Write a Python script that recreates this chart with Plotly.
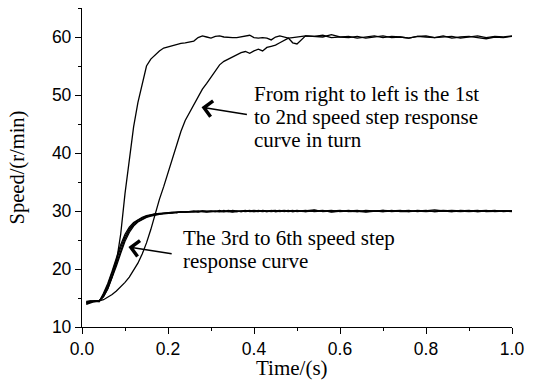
import plotly.graph_objects as go

# ---- data ----
t_fine = [0.01, 0.02, 0.03, 0.04, 0.05, 0.06, 0.07, 0.08, 0.09, 0.10,
          0.11, 0.12, 0.13, 0.14, 0.15, 0.16, 0.17, 0.18, 0.19, 0.20,
          0.21, 0.22, 0.23, 0.24, 0.25, 0.26, 0.27, 0.28, 0.29, 0.30,
          0.31, 0.32, 0.33, 0.34, 0.35, 0.36, 0.37, 0.38, 0.39, 0.40,
          0.41, 0.42, 0.43, 0.44, 0.45, 0.46, 0.47, 0.48, 0.49, 0.50]
t_coarse = [0.52, 0.54, 0.56, 0.58, 0.60, 0.62, 0.64, 0.66, 0.68, 0.70,
            0.72, 0.74, 0.76, 0.78, 0.80, 0.82, 0.84, 0.86, 0.88, 0.90,
            0.92, 0.94, 0.96, 0.98, 1.00]
time_s = t_fine + t_coarse

# 2nd step response (fast, to 60 r/min)
speed_2nd = [14.2, 14.4, 14.5, 14.5, 15.3, 16.6, 18.6, 21.2, 26.0, 33.0,
             39.0, 44.5, 48.7, 52.0, 55.0, 56.2, 56.9, 57.6, 58.1, 58.3,
             58.6, 58.8, 58.9, 59.0, 59.1, 59.3, 59.9, 60.2, 60.0, 59.8,
             60.1, 60.2, 60.0, 59.9, 59.9, 59.9, 60.0, 60.1, 60.3, 59.9,
             59.8, 59.9, 59.8, 59.5, 60.0, 60.2, 60.0, 59.8, 59.9, 60.0,
             60.2, 60.1, 60.3, 59.9, 60.0, 60.1, 59.8, 60.0, 60.2, 59.9,
             60.1, 60.0, 59.8, 60.1, 60.2, 59.9, 60.0, 60.1, 59.8, 60.0,
             60.2, 59.9, 60.1, 60.0, 60.2]

# 1st step response (slow, to 60 r/min)
speed_1st = [14.3, 14.5, 14.5, 14.5, 14.7, 15.1, 15.6, 16.2, 16.9, 17.7,
             18.6, 19.7, 21.0, 22.6, 24.5, 26.8, 29.6, 32.0, 34.2, 36.6,
             39.2, 41.6, 43.7, 45.6, 47.0, 48.3, 49.7, 51.0, 52.0, 53.0,
             54.2, 55.2, 55.8, 56.2, 56.6, 57.0, 57.3, 57.5, 57.2, 57.6,
             57.9, 57.6, 58.2, 58.4, 58.6, 59.0, 59.4, 59.8, 59.0, 58.8,
             60.2, 60.1, 60.0, 60.4, 60.0, 59.9, 60.1, 59.8, 60.0, 60.2,
             59.9, 60.0, 59.8, 60.1, 60.0, 59.9, 60.2, 59.8, 60.0, 60.1,
             59.9, 59.7, 60.0, 59.9, 60.1]

# 3rd..6th step responses (to 30 r/min)
speed_3rd = [14.0, 14.3, 14.4, 14.4, 15.8, 17.5, 19.6, 22.0, 24.2, 26.0,
             27.2, 28.0, 28.5, 28.9, 29.2, 29.4, 29.5, 29.6, 29.6, 29.7,
             29.7, 29.8, 29.8, 29.9, 29.8, 29.9, 30.0, 29.9, 29.8, 29.9,
             30.0, 29.9, 30.1, 29.9, 29.8, 29.9, 30.0, 30.1, 29.9, 30.0,
             29.9, 30.1, 30.0, 29.9, 30.0, 30.1, 29.9, 30.0, 30.1, 29.9,
             30.0, 30.2, 29.9, 30.0, 30.1, 29.9, 30.0, 29.8, 30.0, 30.1,
             29.9, 30.0, 30.1, 29.9, 30.0, 30.2, 30.0, 29.9, 30.0, 30.1,
             29.9, 30.0, 30.1, 29.9, 30.0]
speed_4th = [14.2, 14.4, 14.5, 14.4, 15.6, 17.2, 19.2, 21.5, 23.7, 25.6,
             26.9, 27.8, 28.4, 28.8, 29.1, 29.3, 29.5, 29.5, 29.6, 29.7,
             29.8, 29.7, 29.9, 29.8, 29.9, 29.9, 29.8, 30.0, 29.9, 30.0,
             29.9, 30.1, 29.9, 30.0, 29.9, 30.0, 29.9, 30.0, 30.1, 29.9,
             30.0, 30.0, 29.9, 30.1, 29.9, 30.0, 30.0, 29.9, 30.0, 30.1,
             29.9, 30.0, 30.1, 29.8, 30.0, 30.1, 29.9, 30.0, 30.0, 29.9,
             30.1, 29.9, 30.0, 30.0, 29.9, 30.0, 30.1, 30.0, 29.9, 30.0,
             30.1, 29.9, 30.0, 30.0, 30.0]
speed_5th = [14.4, 14.5, 14.4, 14.5, 15.4, 16.9, 18.8, 21.0, 23.2, 25.2,
             26.6, 27.6, 28.2, 28.6, 29.0, 29.2, 29.4, 29.5, 29.6, 29.6,
             29.7, 29.8, 29.8, 29.9, 29.9, 29.8, 29.9, 30.0, 30.0, 29.9,
             30.0, 30.0, 29.9, 30.1, 30.0, 29.9, 30.0, 29.9, 30.0, 30.1,
             30.0, 29.9, 30.0, 30.0, 30.1, 29.9, 30.0, 30.1, 29.9, 30.0,
             30.1, 29.9, 30.0, 30.1, 29.9, 30.0, 30.1, 29.9, 30.0, 30.1,
             30.0, 29.9, 29.9, 30.1, 30.0, 29.9, 30.0, 30.1, 30.0, 29.9,
             30.0, 30.1, 29.9, 30.0, 29.9]
speed_6th = [13.9, 14.2, 14.4, 14.5, 15.2, 16.6, 18.4, 20.5, 22.7, 24.8,
             26.3, 27.4, 28.1, 28.5, 28.9, 29.1, 29.3, 29.4, 29.5, 29.6,
             29.6, 29.7, 29.8, 29.8, 29.9, 30.0, 29.9, 29.9, 30.0, 29.9,
             29.9, 30.0, 30.0, 29.9, 30.1, 30.0, 29.9, 30.0, 30.0, 29.9,
             30.1, 30.0, 29.9, 30.0, 29.9, 30.0, 30.1, 30.0, 29.9, 30.0,
             29.9, 30.1, 30.0, 29.9, 30.0, 30.0, 29.9, 30.1, 30.0, 29.9,
             30.0, 30.1, 29.9, 30.0, 30.1, 29.9, 30.0, 29.9, 30.1, 30.0,
             29.9, 30.0, 30.0, 30.1, 30.0]

series = [speed_2nd, speed_1st, speed_3rd, speed_4th, speed_5th, speed_6th]

x_ticks = [0.0, 0.2, 0.4, 0.6, 0.8, 1.0]
y_ticks = [10, 20, 30, 40, 50, 60]

note_top = ["From right to left is the 1st",
            "to 2nd speed step response",
            "curve in turn"]
note_bottom = ["The 3rd to 6th speed step",
               "response curve"]

SERIF = "Liberation Serif"
SANS = "Liberation Sans"

fig = go.Figure()
for s in series:
    fig.add_trace(go.Scatter(x=time_s, y=s, mode="lines",
                             line=dict(color="black", width=1.3),
                             showlegend=False, hoverinfo="skip"))

annotations = []
# arrows
annotations.append(dict(x=0.278, y=47.9, ax=0.387, ay=46.6, xref="x", yref="y",
                        axref="x", ayref="y", text="", showarrow=True,
                        arrowhead=4, arrowsize=2.2, arrowwidth=1.4,
                        arrowcolor="black"))
annotations.append(dict(x=0.108, y=23.8, ax=0.212, ay=22.6, xref="x", yref="y",
                        axref="x", ayref="y", text="", showarrow=True,
                        arrowhead=4, arrowsize=2.2, arrowwidth=1.4,
                        arrowcolor="black"))
# text notes, one line per annotation
for i, line in enumerate(note_top):
    annotations.append(dict(x=0.396, y=50.2 - 3.97 * i, xref="x", yref="y",
                            text=line, showarrow=False, xanchor="left",
                            yanchor="middle",
                            font=dict(family=SERIF, size=21, color="black")))
for i, line in enumerate(note_bottom):
    annotations.append(dict(x=0.230, y=25.3 - 3.97 * i, xref="x", yref="y",
                            text=line, showarrow=False, xanchor="left",
                            yanchor="middle",
                            font=dict(family=SERIF, size=21, color="black")))
# axis titles
annotations.append(dict(x=0.488, y=-0.128, xref="paper", yref="paper",
                        text="Time/(s)", showarrow=False, xanchor="center",
                        yanchor="middle",
                        font=dict(family=SERIF, size=21, color="black")))
annotations.append(dict(x=-0.149, y=0.5, xref="paper", yref="paper",
                        text="Speed/(r/min)", showarrow=False, textangle=-90,
                        xanchor="center", yanchor="middle",
                        font=dict(family=SERIF, size=20.5, color="black")))

axis_common = dict(showline=True, linecolor="black", linewidth=1.3,
                   ticks="outside", ticklen=6, tickwidth=1.3, tickcolor="black",
                   showgrid=False, zeroline=False, mirror=False,
                   tickfont=dict(family=SANS, size=17.5, color="black"))

fig.update_layout(
    width=533, height=380,
    margin=dict(l=82, r=21, t=8, b=53),
    plot_bgcolor="white", paper_bgcolor="white",
    font=dict(family=SANS),
    xaxis=dict(range=[0, 1.0], tickvals=x_ticks,
               ticktext=[f"{v:.1f}" for v in x_ticks],
               minor=dict(tickvals=[0.1, 0.3, 0.5, 0.7, 0.9], ticklen=3,
                          tickwidth=1.3, tickcolor="black", ticks="outside"),
               **axis_common),
    yaxis=dict(range=[10, 65], tickvals=y_ticks,
               minor=dict(tickvals=[15, 25, 35, 45, 55, 65], ticklen=3,
                          tickwidth=1.3, tickcolor="black", ticks="outside"),
               **axis_common),
    annotations=annotations,
)

fig.write_html("out.html")
